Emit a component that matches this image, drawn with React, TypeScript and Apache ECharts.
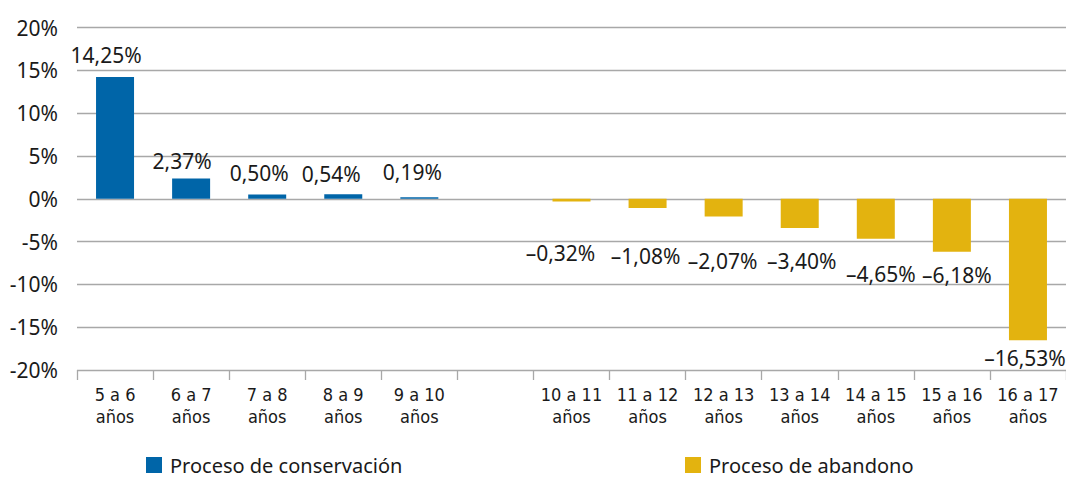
import React, { useEffect, useRef } from "react";
import * as echarts from "echarts";

const categories = [
  "5 a 6\naños", "6 a 7\naños", "7 a 8\naños", "8 a 9\naños", "9 a 10\naños", "",
  "10 a 11\naños", "11 a 12\naños", "12 a 13\naños", "13 a 14\naños",
  "14 a 15\naños", "15 a 16\naños", "16 a 17\naños",
];
const conservacion = [14.25, 2.37, 0.5, 0.54, 0.19, null, null, null, null, null, null, null, null];
const abandono = [null, null, null, null, null, null, -0.32, -1.08, -2.07, -3.4, -4.65, -6.18, -16.53];
const yTicks = { min: -20, max: 20, interval: 5 };
const seriesNames = ["Proceso de conservación", "Proceso de abandono"];

// label nudges (style only): [dx, dy]
const labelNudge: [number, number][] = [
  [-9, -11], [-9, -7], [-8, -11], [-12, -10], [-7, -15], [0, 0],
  [-11, 41], [-2, 37], [-1, 34], [2, 23], [5, 25], [5, 13], [-3, 7],
];

const BLUE = "#0065A8";
const YELLOW = "#E3B30F";
const FONT = "'Noto Sans', sans-serif";

const fmt = (v: number) => (v < 0 ? "\u2013" : "") + Math.abs(v).toFixed(2).replace(".", ",") + "%";

function buildData(values: (number | null)[]) {
  return values.map((v, i) =>
    v == null
      ? null
      : {
          value: v,
          label: {
            position: v >= 0 ? "top" : "bottom",
            distance: 0,
            offset: labelNudge[i],
          },
        }
  );
}

export default function App() {
  const ref = useRef<HTMLDivElement>(null);
  useEffect(() => {
    if (!ref.current) return;
    const chart = echarts.init(ref.current, undefined, { renderer: "svg" });
    const labelStyle = {
      show: true,
      color: "#1a1a1a",
      fontFamily: FONT,
      fontSize: 21,
      formatter: (p: any) => fmt(p.value),
    };
    const legendText = { fontFamily: FONT, fontSize: 20, color: "#1a1a1a", padding: [0, 0, 0, 3] };
    chart.setOption({
      animation: false,
      backgroundColor: "#ffffff",
      grid: { left: 77, top: 27.7, width: 991, height: 342.3, containLabel: false },
      legend: [
        {
          data: [seriesNames[0]],
          left: 146,
          top: 455,
          padding: 0,
          itemWidth: 16,
          itemHeight: 16,
          icon: "rect",
          textStyle: legendText,
        },
        {
          data: [seriesNames[1]],
          left: 685,
          top: 455,
          padding: 0,
          itemWidth: 16,
          itemHeight: 16,
          icon: "rect",
          textStyle: legendText,
        },
      ],
      xAxis: {
        type: "category",
        data: categories,
        position: "bottom",
        offset: 0,
        axisLine: { show: false, onZero: false },
        axisTick: { show: true, length: 10, lineStyle: { color: "#a8a8a8", width: 1.3 }, alignWithLabel: false },
        axisLabel: {
          interval: 0,
          margin: 13,
          fontFamily: "'DejaVu Sans Condensed', sans-serif",
          fontSize: 18,
          lineHeight: 22,
          color: "#1a1a1a",
        },
        splitLine: { show: false },
      },
      yAxis: {
        type: "value",
        min: yTicks.min,
        max: yTicks.max,
        interval: yTicks.interval,
        axisLine: { show: false },
        axisTick: { show: false },
        axisLabel: {
          margin: 19,
          fontFamily: FONT,
          fontSize: 21,
          color: "#1a1a1a",
          formatter: (v: number) => v + "%",
        },
        splitLine: { lineStyle: { color: "#a8a8a8", width: 1.3 } },
      },
      series: [
        {
          name: seriesNames[0],
          type: "bar",
          data: buildData(conservacion),
          barWidth: 38,
          barGap: "-100%",
          itemStyle: { color: BLUE },
          label: labelStyle,
        },
        {
          name: seriesNames[1],
          type: "bar",
          data: buildData(abandono),
          barWidth: 38,
          barGap: "-100%",
          itemStyle: { color: YELLOW },
          label: labelStyle,
        },
      ],
    });
    return () => chart.dispose();
  }, []);
  return (
    <div
      ref={ref}
      style={{ position: "fixed", left: 0, top: 0, width: 1066, height: 478, background: "#fff" }}
    />
  );
}
